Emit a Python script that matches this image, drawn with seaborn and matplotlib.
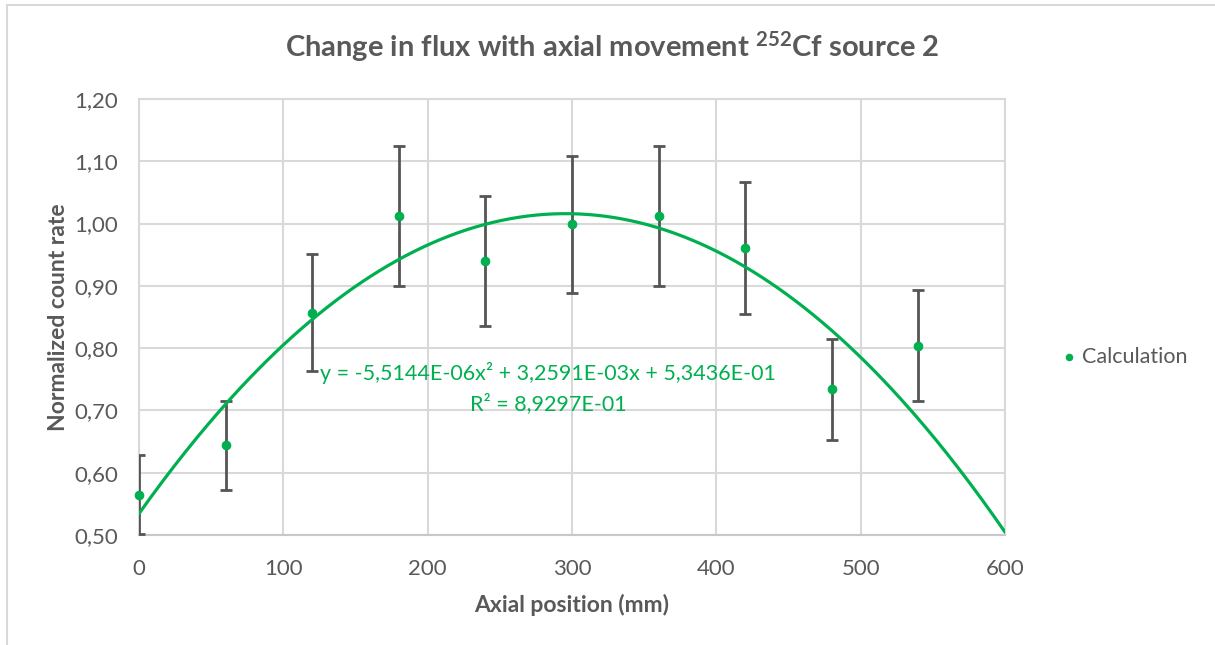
import numpy as np
import pandas as pd
import matplotlib
matplotlib.use("Agg")
import matplotlib.pyplot as plt
import seaborn as sns
from matplotlib.ticker import FuncFormatter, MultipleLocator
from matplotlib.patches import Rectangle

# ---- data ----
positions = [0, 60, 120, 180, 240, 300, 360, 420, 480, 540]
count_rate = [0.565, 0.644, 0.857, 1.012, 0.940, 0.999, 1.012, 0.961, 0.734, 0.804]
errors = [0.063, 0.071, 0.094, 0.112, 0.104, 0.110, 0.112, 0.106, 0.081, 0.089]
fit_coeffs = [-5.5144e-06, 3.2591e-03, 5.3436e-01]
fit_label = "y = -5,5144E-06x² + 3,2591E-03x + 5,3436E-01"
r2_label = "R² = 8,9297E-01"
series_name = "Calculation"
title_text = r"Change in flux with axial movement $\mathbf{^{252}}$Cf source 2"
x_label = "Axial position (mm)"
y_label = "Normalized count rate"

GREEN = "#00B050"
GREY_TXT = "#595959"
GRID = "#D9D9D9"

sns.set_theme(style="whitegrid")
plt.rcParams["font.family"] = ["Lato", "DejaVu Sans"]
plt.rcParams["mathtext.fontset"] = "custom"
plt.rcParams["mathtext.rm"] = "Lato"
plt.rcParams["mathtext.bf"] = "Lato:bold"

fig = plt.figure(figsize=(12.15, 6.45), dpi=100)
fig.patch.set_facecolor("white")
ax = fig.add_axes([139/1215, 1-535/645, (1005-139)/1215, (535-99)/645])

df = pd.DataFrame({"pos": positions, "rate": count_rate, "err": errors})

# trendline
xs = np.linspace(0, 600, 300)
ys = np.polyval(fit_coeffs, xs)
sns.lineplot(x=xs, y=ys, ax=ax, color=GREEN, lw=2.3, zorder=4, legend=False)

# error bars
ax.errorbar(df["pos"], df["rate"], yerr=df["err"], fmt="none",
            ecolor="#555555", elinewidth=2, capsize=4.5, capthick=2, zorder=3)

# points
sns.scatterplot(data=df, x="pos", y="rate", ax=ax, color=GREEN, s=38,
                edgecolor=GREEN, linewidth=0.8, zorder=5, label=series_name,
                clip_on=False)

ax.set_xlim(0, 600)
ax.set_ylim(0.5, 1.2)
ax.xaxis.set_major_locator(MultipleLocator(100))
ax.yaxis.set_major_locator(MultipleLocator(0.1))
ax.yaxis.set_major_formatter(FuncFormatter(lambda v, p: f"{v:.2f}".replace(".", ",")))
ax.xaxis.set_major_formatter(FuncFormatter(lambda v, p: f"{v:.0f}"))
ax.grid(True, color=GRID, lw=1.5)
ax.set_axisbelow(True)
for side, sp in ax.spines.items():
    sp.set_color(GRID)
    sp.set_linewidth(1.5)
ax.spines["bottom"].set_color("#C8C8C8")
ax.tick_params(axis="both", length=0, labelsize=16, colors=GREY_TXT)
ax.tick_params(axis="y", pad=15)
ax.tick_params(axis="x", pad=17)

ax.set_xlabel(x_label, fontsize=16.5, fontweight="bold", color=GREY_TXT, labelpad=11)
ax.set_ylabel(y_label, fontsize=16.5, fontweight="bold", color=GREY_TXT, labelpad=4)

fig.text(612/1215, 1-47/645, title_text, fontsize=21, fontweight="bold",
         color=GREY_TXT, ha="center", va="center")

x_eq = (548-139)/(1005-139)*600
ax.text(x_eq, 0.5 + (534.3-373)/620.9, fit_label, color=GREEN, fontsize=15.5,
        ha="center", va="center", zorder=6)
ax.text(x_eq, 0.5 + (534.3-403)/620.9, r2_label, color=GREEN, fontsize=15.5,
        ha="center", va="center", zorder=6)

leg = ax.legend(loc="center left", bbox_to_anchor=(1064/1215, 1-357/645),
                bbox_transform=fig.transFigure, frameon=False, fontsize=15.5,
                handlelength=0.5, handletextpad=0.35, borderaxespad=0,
                borderpad=0, markerscale=0.75)
for t in leg.get_texts():
    t.set_color(GREY_TXT)

# chart border (cropped on the right and bottom)
fig.patches.append(Rectangle((7/1215, -0.1), 1.2, 1-5/645+0.1,
                             transform=fig.transFigure, fill=False,
                             edgecolor=GRID, lw=1.5))

fig.savefig("out.png", dpi=100, facecolor="white")
